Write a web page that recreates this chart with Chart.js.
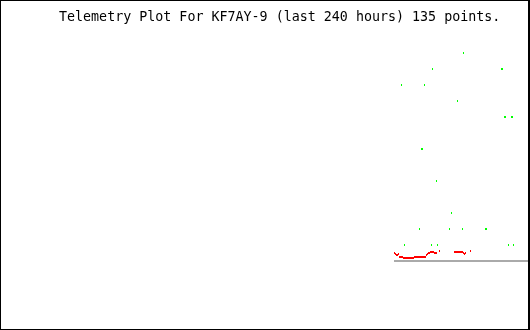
<!DOCTYPE html>
<html>
<head>
<meta charset="utf-8">
<script src="https://cdn.jsdelivr.net/npm/chart.js@4/dist/chart.umd.min.js"></script>
<style>
  html, body { margin: 0; padding: 0; background: #fff; }
  #wrap { position: relative; width: 530px; height: 330px; }
  #plot { position: absolute; left: 0; top: 0; }
  #title {
    position: absolute; left: 59px; top: 9px;
    font: 13.33px/16px "DejaVu Sans Mono", monospace;
    color: #000; white-space: pre;
  }
  #frame {
    position: absolute; left: 0; top: 0; width: 530px; height: 330px;
    box-sizing: border-box; border: solid #000;
    border-width: 1px 2px 1px 1px; pointer-events: none;
  }
</style>
</head>
<body>
<div id="wrap">
  <canvas id="plot" width="530" height="330"></canvas>
  <div id="title">Telemetry Plot For KF7AY-9 (last 240 hours) 135 points.</div>
  <div id="frame"></div>
</div>
<script>
/* ---- data: x = hours before now, y = raw telemetry value ---- */
const greenHours = [-63.5, -62, -54.5, -53.5, -53, -52, -48.5, -48, -46, -45.5,
  -39.5, -38.5, -35.5, -33, -32.5, -21.5, -21, -13.5, -13, -12, -11.5, -10, -8.5, -8, -7.5];
const greenValues = [176, 16, 32, 112, 112, 176, 16, 192, 80, 16,
  32, 48, 160, 32, 208, 32, 32, 192, 192, 144, 144, 16, 144, 144, 16];

const redHours = [
  -67, -66.5, -66, -65.5, -65, -64.5, -64, -63.5, -63, -62.5,
  -62, -61.5, -61, -60.5, -60, -59.5, -59, -58.5, -58, -57.5,
  -57, -56.5, -56, -55.5, -55, -54.5, -54, -53.5, -53, -52.5, -52, -51.5,
  -51, -50.5, -50, -49.5, -49, -48.5, -48, -47.5, -47, -46.5, -46,
  -44.5,
  -37, -36.5, -36, -35.5, -35, -34.5, -34, -33.5, -33, -32.5, -32, -31.5,
  -29
];
const redValues = [
  8, 7, 6, 6, 7, 4, 4, 4, 4, 3,
  3, 3, 3, 3, 3, 3, 3, 3, 3, 3,
  4, 4, 4, 4, 4, 4, 4, 4, 4, 4, 4, 4,
  6, 7, 8, 8, 9, 9, 9, 9, 8, 8, 8,
  10,
  9, 9, 9, 9, 9, 9, 9, 9, 9, 8, 7, 8,
  10
];

const grayHours = [-67.25, 0];
const grayValues = [0, 0];

const HOURS_SPAN = 240;

function pairs(xs, ys) {
  return xs.map((x, i) => ({ x: x, y: ys[i] }));
}

// small vertical dash used as the plot mark
const dotStyle = {
  type: 'scatter',
  pointStyle: 'line',
  pointRotation: 90,
  pointRadius: 1,
  pointBorderWidth: 1,
  clip: false,
};

new Chart(document.getElementById('plot'), {
  type: 'scatter',
  data: {
    datasets: [
      {
        type: 'line',
        label: 'baseline',
        data: pairs(grayHours, grayValues),
        borderColor: '#aaaaaa',
        borderWidth: 2,
        borderCapStyle: 'butt',
        pointRadius: 0,
        clip: false,
      },
      Object.assign({}, dotStyle, {
        label: 'green',
        data: pairs(greenHours, greenValues),
        pointBorderColor: '#00ff00',
        pointBackgroundColor: '#00ff00',
      }),
      Object.assign({}, dotStyle, {
        label: 'red',
        data: pairs(redHours, redValues),
        pointBorderColor: '#ff0000',
        pointBackgroundColor: '#ff0000',
      }),
    ],
  },
  options: {
    responsive: false,
    animation: false,
    events: [],
    devicePixelRatio: 1,
    // autoPadding off so the plot area is exactly the padded box
    layout: { autoPadding: false, padding: { left: 48.5, right: 1.5, top: 5, bottom: 69 } },
    plugins: { legend: { display: false }, tooltip: { enabled: false } },
    scales: {
      x: { type: 'linear', min: -HOURS_SPAN, max: 0, display: false },
      y: { type: 'linear', min: 0, max: 256, display: false },
    },
  },
});
</script>
</body>
</html>
